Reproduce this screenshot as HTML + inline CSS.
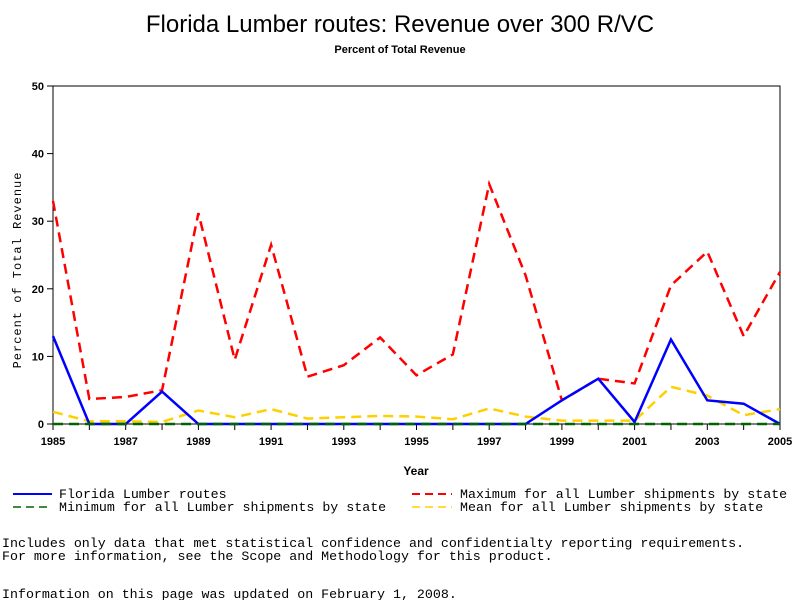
<!DOCTYPE html>
<html><head><meta charset="utf-8"><style>
body{margin:0;background:#fff;}
svg text{font-family:"Liberation Sans",sans-serif;}
.mono{font-family:"Liberation Mono",monospace;font-size:13.3px;}
</style></head><body>
<svg width="800" height="600">
<text x="400" y="32" text-anchor="middle" font-size="24">Florida Lumber routes: Revenue over 300 R/VC</text>
<text x="400" y="53" text-anchor="middle" font-size="11" font-weight="bold">Percent of Total Revenue</text>
<rect x="53" y="86" width="727" height="338" fill="none" stroke="#000"/>
<g id="yticks"></g>
<g id="xticks"></g>
<text transform="translate(21,270) rotate(-90)" text-anchor="middle" class="mono" style="font-size:12px;letter-spacing:1px">Percent of Total Revenue</text>
<text x="416" y="475" text-anchor="middle" font-size="12" font-weight="bold">Year</text>
<g id="series"></g>
<g>
<line x1="13" y1="494" x2="52" y2="494" stroke="#0000ff" stroke-width="2"/>
<text x="59" y="498" class="mono">Florida Lumber routes</text>
<line x1="412" y1="494" x2="452" y2="494" stroke="#ff0000" stroke-width="2" stroke-dasharray="8,5"/>
<text x="460" y="498" class="mono">Maximum for all Lumber shipments by state</text>
<line x1="13" y1="507" x2="52" y2="507" stroke="#006400" stroke-width="1.5" stroke-dasharray="8,5"/>
<text x="59" y="511" class="mono">Minimum for all Lumber shipments by state</text>
<line x1="412" y1="507" x2="452" y2="507" stroke="#ffd000" stroke-width="1.5" stroke-dasharray="8,5"/>
<text x="460" y="511" class="mono">Mean for all Lumber shipments by state</text>
</g>
<text x="2" y="547" class="mono">Includes only data that met statistical confidence and confidentialty reporting requirements.</text>
<text x="2" y="560" class="mono">For more information, see the Scope and Methodology for this product.</text>
<text x="2" y="598" class="mono">Information on this page was updated on February 1, 2008.</text>
</svg>
<script>
const years=[1985,1986,1987,1988,1989,1990,1991,1992,1993,1994,1995,1996,1997,1998,1999,2000,2001,2002,2003,2004,2005];
const florida=[13,0,0,4.8,0,0,0,0,0,0,0,0,0,0,3.5,6.7,0.3,12.5,3.5,3,0];
const maximum=[33,3.7,4,5,31.2,9.5,26.5,7,8.7,12.8,7.2,10.3,35.5,22,3.5,6.7,6,20.5,25.5,13,22.5];
const minimum=[0,0,0,0,0,0,0,0,0,0,0,0,0,0,0,0,0,0,0,0,0];
const mean=[1.8,0.4,0.4,0.3,2,1,2.2,0.8,1,1.2,1.1,0.7,2.3,1.1,0.5,0.5,0.5,5.5,4.2,1.3,2.2];
const yTicks=[0,10,20,30,40,50];
const xTickLabels=[1985,1987,1989,1991,1993,1995,1997,1999,2001,2003,2005];
const NS="http://www.w3.org/2000/svg";
const X=y=>53+(y-1985)/20*727;
const Y=v=>424-v/50*338;
function mk(t,a,p){const e=document.createElementNS(NS,t);for(const k in a)e.setAttribute(k,a[k]);p.appendChild(e);return e;}
const yg=document.getElementById('yticks');
yTicks.forEach(v=>{
 const l=mk('line',{x1:47,x2:53,y1:Y(v),y2:Y(v),stroke:'#000'},yg);
 
 
 const t=mk('text',{x:44,y:Y(v)+4,'text-anchor':'end','font-size':11,'font-weight':'bold'},yg);
 t.textContent=v;
 
 
});
const xg=document.getElementById('xticks');
years.forEach(y=>{
 const l=mk('line',{x1:X(y),x2:X(y),y1:424,y2:430,stroke:'#000'},xg);
 
 
});
xTickLabels.forEach(y=>{
 const t=mk('text',{x:X(y),y:445,'text-anchor':'middle','font-size':11,'font-weight':'bold'},xg);
 t.textContent=y;
 
 
});
const sg=document.getElementById('series');
function line(arr,color,w,dash,name){
 const p=mk('polyline',{points:arr.map((v,i)=>X(years[i])+','+Y(v)).join(' '),fill:'none',stroke:color,'stroke-width':w},sg);
 if(dash)p.setAttribute('stroke-dasharray',dash);
 
 
}
line(maximum,'#ff0000',2.5,'10,6','maximum-line');
line(mean,'#ffd000',2.5,'10,6','mean-line');
line(florida,'#0000ff',2.5,null,'florida-line');
line(minimum,'#006400',2.5,'10,6','minimum-line');
</script>
</body></html>
